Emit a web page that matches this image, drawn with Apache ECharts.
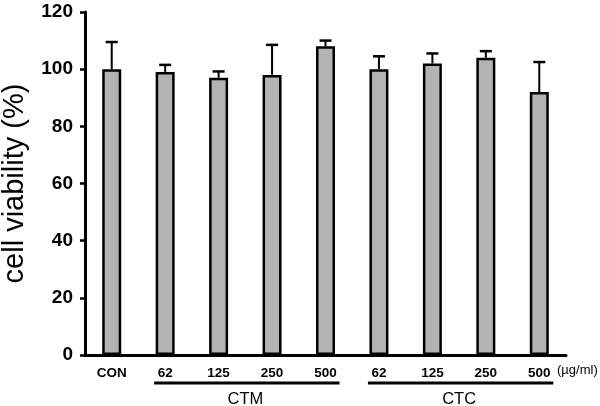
<!DOCTYPE html>
<html>
<head>
<meta charset="utf-8">
<script src="https://cdn.jsdelivr.net/npm/echarts@6/dist/echarts.min.js"></script>
<style>html,body{margin:0;padding:0;background:#fff;}#c{width:600px;height:406px;}</style>
</head>
<body>
<div id="c"></div>
<script>
var categories = ['CON', '62', '125', '250', '500', '62', '125', '250', '500'];
var viability = [100, 99, 97, 98, 108, 100, 102, 104, 92];
var errorUpper = [109.5, 101.5, 99.2, 108.5, 110, 104.5, 105.5, 106.3, 102.5];
var groups = [[1, 4, 'CTM'], [5, 8, 'CTC']];
var yTicks = [0, 20, 40, 60, 80, 100, 120];
var unitLabel = '(\u00b5g/ml)';
var yName = 'cell viability (%)';

var font = '"Liberation Sans", Arial, Helvetica, sans-serif';
var chart = echarts.init(document.getElementById('c'));
chart.setOption({
  backgroundColor: '#fff',
  animation: false,
  grid: { left: 85, right: 34, top: 12, bottom: 51, containLabel: false, outerBoundsMode: 'none' },
  xAxis: {
    type: 'category',
    data: categories,
    axisLine: { lineStyle: { color: '#000', width: 3 } },
    axisTick: { show: false },
    axisLabel: { color: '#000', fontFamily: font, fontWeight: 'bold', fontSize: 13.5, margin: 11 }
  },
  yAxis: {
    type: 'value',
    min: yTicks[0],
    max: yTicks[yTicks.length - 1],
    interval: 20,
    name: yName,
    nameLocation: 'middle',
    nameGap: 56,
    nameTextStyle: { color: '#000', fontFamily: font, fontSize: 29 },
    axisLine: { show: true, lineStyle: { color: '#000', width: 3 } },
    axisTick: { show: true, length: 5, lineStyle: { color: '#000', width: 2.5 } },
    axisLabel: { color: '#000', fontFamily: font, fontWeight: 'bold', fontSize: 19, margin: 12 },
    splitLine: { show: false }
  },
  graphic: [{
    type: 'text',
    left: 557,
    top: 364,
    style: { text: unitLabel, fill: '#000', font: '13px ' + font }
  }],
  series: [
    {
      type: 'bar',
      data: viability,
      barWidth: 19,
      itemStyle: { color: '#b3b3b3', borderColor: '#000', borderWidth: 2.5 },
      z: 3
    },
    {
      type: 'custom',
      clip: false,
      z: 2,
      data: viability.map(function (v, i) { return [i, v, errorUpper[i]]; }),
      renderItem: function (params, api) {
        var p0 = api.coord([api.value(0), api.value(1)]);
        var p1 = api.coord([api.value(0), api.value(2)]);
        var cap = 6;
        return {
          type: 'group',
          children: [
            { type: 'line', shape: { x1: p0[0], y1: p0[1], x2: p1[0], y2: p1[1] }, style: { stroke: '#000', lineWidth: 2 } },
            { type: 'line', shape: { x1: p1[0] - cap, y1: p1[1], x2: p1[0] + cap, y2: p1[1] }, style: { stroke: '#000', lineWidth: 2.5 } }
          ]
        };
      }
    },
    {
      type: 'custom',
      clip: false,
      silent: true,
      data: groups,
      renderItem: function (params, api) {
        var a = api.coord([api.value(0), 0]);
        var b = api.coord([api.value(1), 0]);
        var y = a[1] + 28;
        return {
          type: 'group',
          children: [
            { type: 'line', shape: { x1: a[0] - 11, y1: y, x2: b[0] + 14, y2: y }, style: { stroke: '#000', lineWidth: 3 } },
            { type: 'text', style: { text: groups[params.dataIndex][2], x: (a[0] + b[0]) / 2, y: y + 16, align: 'center', verticalAlign: 'middle', fill: '#000', font: '16.5px ' + font } }
          ]
        };
      }
    }
  ]
});
</script>
</body>
</html>
